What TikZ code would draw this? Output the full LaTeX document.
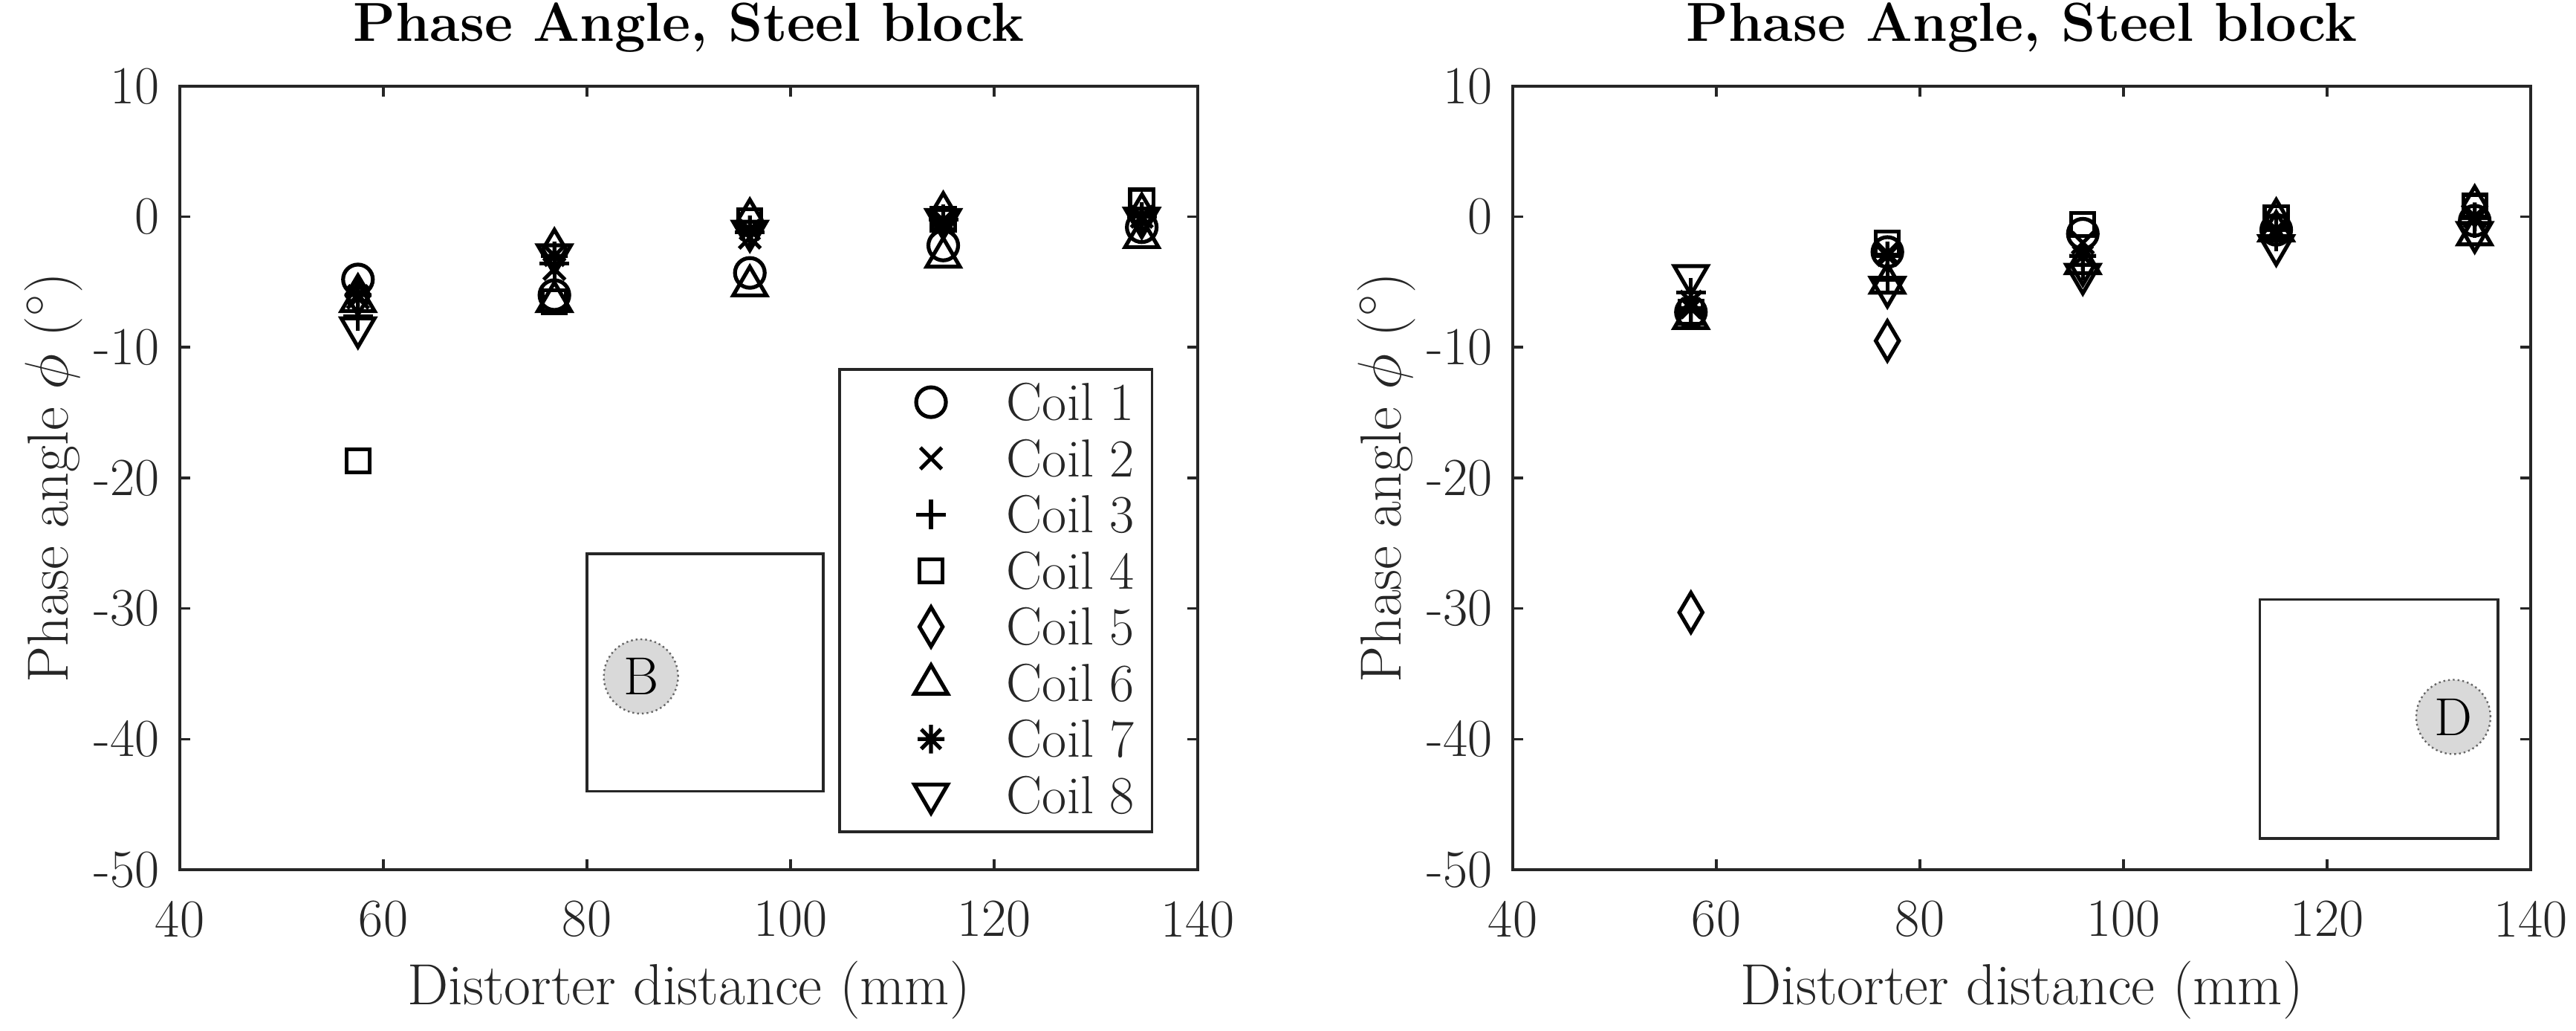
\documentclass[tikz,border=0pt]{standalone}
\usetikzlibrary{plotmarks}
\pgfdeclareplotmark{mdiam}{\pgfpathmoveto{\pgfqpoint{0pt}{6.6pt}}\pgfpathlineto{\pgfqpoint{3.9pt}{0pt}}\pgfpathlineto{\pgfqpoint{0pt}{-6.6pt}}\pgfpathlineto{\pgfqpoint{-3.9pt}{0pt}}\pgfpathclose\pgfusepathqstroke}
\pgfdeclareplotmark{mtri}{\pgfpathmoveto{\pgfqpoint{0pt}{6pt}}\pgfpathlineto{\pgfqpoint{5.6pt}{-3.6pt}}\pgfpathlineto{\pgfqpoint{-5.6pt}{-3.6pt}}\pgfpathclose\pgfusepathqstroke}
\pgfdeclareplotmark{mdtri}{\pgfpathmoveto{\pgfqpoint{0pt}{-6pt}}\pgfpathlineto{\pgfqpoint{5.6pt}{3.6pt}}\pgfpathlineto{\pgfqpoint{-5.6pt}{3.6pt}}\pgfpathclose\pgfusepathqstroke}
\pgfdeclareplotmark{msq}{\pgfpathrectangle{\pgfqpoint{-3.9pt}{-3.9pt}}{\pgfqpoint{7.8pt}{7.8pt}}\pgfusepathqstroke}
\pgfdeclareplotmark{mo}{\pgfpathcircle{\pgfpointorigin}{5pt}\pgfusepathqstroke}
\pgfdeclareplotmark{mx}{\pgfpathmoveto{\pgfqpoint{-3.6pt}{-3.6pt}}\pgfpathlineto{\pgfqpoint{3.6pt}{3.6pt}}\pgfpathmoveto{\pgfqpoint{-3.6pt}{3.6pt}}\pgfpathlineto{\pgfqpoint{3.6pt}{-3.6pt}}\pgfusepathqstroke}
\pgfdeclareplotmark{mp}{\pgfpathmoveto{\pgfqpoint{-5pt}{0pt}}\pgfpathlineto{\pgfqpoint{5pt}{0pt}}\pgfpathmoveto{\pgfqpoint{0pt}{5pt}}\pgfpathlineto{\pgfqpoint{0pt}{-5pt}}\pgfusepathqstroke}
\pgfdeclareplotmark{mst}{\pgfpathmoveto{\pgfqpoint{-4.5pt}{0pt}}\pgfpathlineto{\pgfqpoint{4.5pt}{0pt}}\pgfpathmoveto{\pgfqpoint{0pt}{4.8pt}}\pgfpathlineto{\pgfqpoint{0pt}{-4.8pt}}\pgfpathmoveto{\pgfqpoint{-3.3pt}{-3.3pt}}\pgfpathlineto{\pgfqpoint{3.3pt}{3.3pt}}\pgfpathmoveto{\pgfqpoint{-3.3pt}{3.3pt}}\pgfpathlineto{\pgfqpoint{3.3pt}{-3.3pt}}\pgfusepathqstroke}
\begin{document}
\begin{tikzpicture}[
  ax/.style={line width=0.9pt, draw=black!85},
  mk/.style={only marks, mark options={line width=1.3pt, solid, draw=black, fill=none}},
  tl/.style={font=\fontsize{18}{20}\selectfont, text=black!85},
  lab/.style={font=\fontsize{19.5}{22}\selectfont, text=black!85},
  ttl/.style={font=\fontsize{18.5}{22}\selectfont\bfseries},
  dist/.style={circle, draw=black!60, densely dotted, line width=0.6pt, fill=black!15, minimum size=25pt, inner sep=0pt, font=\fontsize{18}{20}\selectfont}
]
\useasboundingbox (0,0) rectangle (866.75pt,346.5pt);
% ---------- LEFT ----------
\begin{scope}[x={(3.425pt,0)}, y={(0,4.392pt)}, shift={(-76.5pt,273.6pt)}]
  \foreach \t in {60,80,...,120}{\draw[ax] (\t,-50) -- ++(0,3.5pt) (\t,10) -- ++(0,-3.5pt);}
  \foreach \t in {-40,-30,...,0}{\draw[ax] (40,\t) -- ++(3.5pt,0) (140,\t) -- ++(-3.5pt,0);}
  \draw[ax] (40,-50) rectangle (140,10);
  \foreach \t/\n in {40/a,60/b,80/c,100/d,120/e,140/f}{\node[tl, anchor=north] (lx\n) at (\t,-51.6) {\t};}
  \foreach \t/\n in {10/a,0/b,-10/c,-20/d,-30/e,-40/f,-50/g}{\node[tl, anchor=east] (ly\n) at (39,\t) {\t};}
  \node[lab] (lxl) at (90,-59.2) {Distorter distance (mm)};
  \node[lab, rotate=90] (lyl) at (27.6,-20) {Phase angle $\phi$ ($^\circ$)};
  \node[ttl] (lt) at (90,14.5) {Phase Angle, Steel block};
  \draw[ax] (80,-25.8) rectangle (103.2,-44.0);
  \node[dist] (B) at (85.3,-35.2) {B};
  \draw plot[mk, mark=mo] coordinates {(57.5,-4.8) (76.8,-6.0) (96,-4.3) (115,-2.2) (134.5,-0.8)};
  \draw plot[mk, mark=mx] coordinates {(57.5,-6.2) (76.8,-4.0) (96,-1.6) (115,-0.6) (134.5,0)};
  \draw plot[mk, mark=mp] coordinates {(57.5,-7.6) (76.8,-3.6) (96,-1.2) (115,-0.2) (134.5,0)};
  \draw plot[mk, mark=msq] coordinates {(57.5,-18.7) (76.8,-6.5) (96,-0.3) (115,-0.2) (134.5,1.2)};
  \draw plot[mk, mark=mdiam] coordinates {(57.5,-6.0) (76.8,-2.5) (96,-0.2) (115,0.3) (134.5,0.2)};
  \draw plot[mk, mark=mtri] coordinates {(57.5,-6.4) (76.8,-6.4) (96,-5.2) (115,-3.0) (134.5,-1.5)};
  \draw plot[mk, mark=mst] coordinates {(57.5,-6.0) (76.8,-3.0) (96,-1.0) (115,-0.3) (134.5,0)};
  \draw plot[mk, mark=mdtri] coordinates {(57.5,-8.6) (76.8,-3.0) (96,-1.2) (115,-0.3) (134.5,-0.2)};
  % legend
  \draw[ax] (104.8,-11.7) rectangle (135.5,-47.1);
  \foreach \m/\i/\yy in {mo/1/-14.2, mx/2/-18.5, mp/3/-22.8, msq/4/-27.1, mdiam/5/-31.4, mtri/6/-35.7, mst/7/-40.0, mdtri/8/-44.3}{
    \draw plot[mk, mark=\m] coordinates {(113.8,\yy)};
    \node[tl, anchor=west] (leg\i) at (120.2,\yy) {Coil \i};}
\end{scope}
% ---------- RIGHT ----------
\begin{scope}[x={(3.425pt,0)}, y={(0,4.392pt)}, shift={(372pt,273.6pt)}]
  \foreach \t in {60,80,...,120}{\draw[ax] (\t,-50) -- ++(0,3.5pt) (\t,10) -- ++(0,-3.5pt);}
  \foreach \t in {-40,-30,...,0}{\draw[ax] (40,\t) -- ++(3.5pt,0) (140,\t) -- ++(-3.5pt,0);}
  \draw[ax] (40,-50) rectangle (140,10);
  \foreach \t/\n in {40/a,60/b,80/c,100/d,120/e,140/f}{\node[tl, anchor=north] (rx\n) at (\t,-51.6) {\t};}
  \foreach \t/\n in {10/a,0/b,-10/c,-20/d,-30/e,-40/f,-50/g}{\node[tl, anchor=east] (ry\n) at (39,\t) {\t};}
  \node[lab] (rxl) at (90,-59.2) {Distorter distance (mm)};
  \node[lab, rotate=90] (ryl) at (27.6,-20) {Phase angle $\phi$ ($^\circ$)};
  \node[ttl] (rt) at (90,14.5) {Phase Angle, Steel block};
  \draw[ax] (113.4,-29.3) rectangle (136.8,-47.6);
  \node[dist] (D) at (132.4,-38.3) {D};
  \draw plot[mk, mark=mo] coordinates {(57.5,-7.3) (76.8,-2.7) (96,-1.3) (115,-1.0) (134.5,-0.3)};
  \draw plot[mk, mark=mx] coordinates {(57.5,-6.5) (76.8,-2.8) (96,-2.0) (115,-1.0) (134.5,0)};
  \draw plot[mk, mark=mp] coordinates {(57.5,-5.8) (76.8,-4.8) (96,-3.7) (115,-1.5) (134.5,-0.5)};
  \draw plot[mk, mark=msq] coordinates {(57.5,-7.3) (76.8,-2.0) (96,-0.6) (115,-0.1) (134.5,0.8)};
  \draw plot[mk, mark=mdiam] coordinates {(57.5,-30.3) (76.8,-9.5) (96,-3.7) (115,-0.2) (134.5,0.8)};
  \draw plot[mk, mark=mtri] coordinates {(57.5,-7.7) (76.8,-5.0) (96,-3.5) (115,-1.0) (134.5,-1.3)};
  \draw plot[mk, mark=mst] coordinates {(57.5,-7.0) (76.8,-3.0) (96,-3.0) (115,-1.0) (134.5,0)};
  \draw plot[mk, mark=mdtri] coordinates {(57.5,-4.6) (76.8,-5.5) (96,-4.5) (115,-2.3) (134.5,-1.3)};
\end{scope}
\end{tikzpicture}
\end{document}
